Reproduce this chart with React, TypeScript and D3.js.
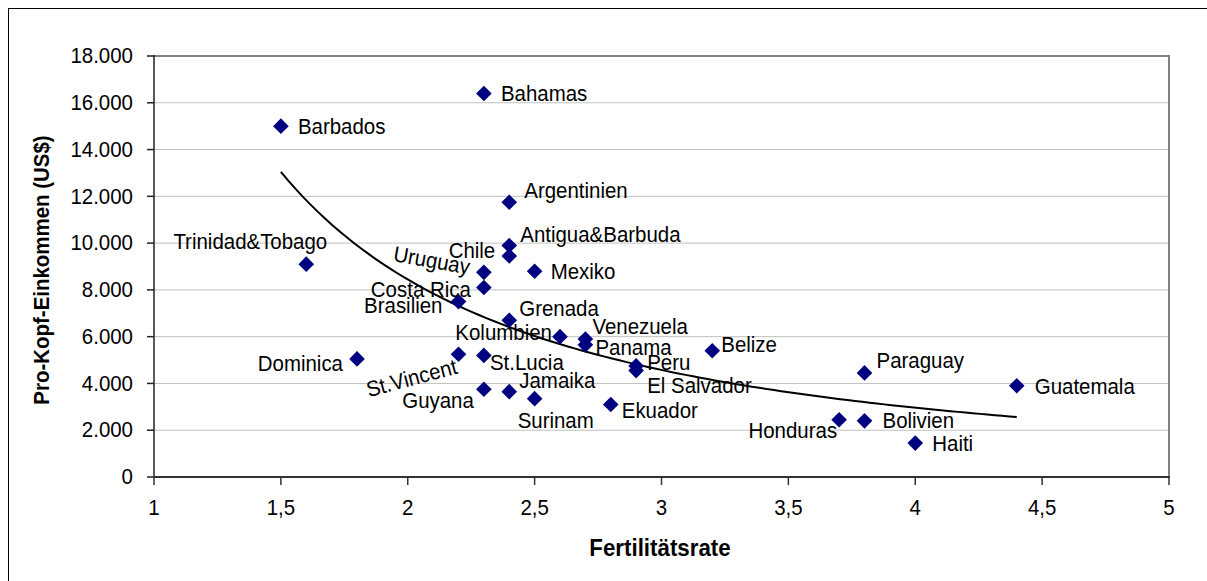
import React from "react";
import * as d3 from "d3";

const countries = [
  "Barbados", "Bahamas", "Trinidad&Tobago", "Argentinien", "Antigua&Barbuda", "Chile",
  "Uruguay", "Costa Rica", "Brasilien", "Mexiko", "Grenada", "Kolumbien", "Venezuela",
  "Panama", "Dominica", "St.Vincent", "St.Lucia", "Belize", "Peru", "El Salvador",
  "Guyana", "Jamaika", "Surinam", "Ekuador", "Paraguay", "Guatemala", "Honduras",
  "Bolivien", "Haiti",
];
const fertility = [
  1.5, 2.3, 1.6, 2.4, 2.4, 2.4,
  2.3, 2.3, 2.2, 2.5, 2.4, 2.6, 2.7,
  2.7, 1.8, 2.2, 2.3, 3.2, 2.9, 2.9,
  2.3, 2.4, 2.5, 2.8, 3.8, 4.4, 3.7,
  3.8, 4.0,
];
const income = [
  15000, 16400, 9100, 11750, 9900, 9450,
  8750, 8100, 7500, 8800, 6700, 6000, 5900,
  5650, 5050, 5250, 5200, 5400, 4750, 4550,
  3750, 3650, 3350, 3100, 4450, 3900, 2450,
  2400, 1450,
];
const xTicks = [1, 1.5, 2, 2.5, 3, 3.5, 4, 4.5, 5];
const yTicks = [0, 2000, 4000, 6000, 8000, 10000, 12000, 14000, 16000, 18000];

// power trendline y = a * x^b, coefficients
const trendA = 24070;
const trendB = -1.511;

// label layout: [dx, dy, anchor, rotate]
const labelLayout: [number, number, string, number][] = [
  [17, 1, "start", 0], [17, 0, "start", 0], [21, -22, "end", 0], [15, -11, "start", 0],
  [11, -11, "start", 0], [-14, -5, "end", 0], [-14, -5, "end", 10], [-13, 2, "end", 0],
  [-16, 4, "end", 0], [16, 1, "start", 0], [10, -12, "start", 0], [-8, -4, "end", 0],
  [7, -12, "start", 0], [10, 3, "start", 0], [-14, 5, "end", 0], [-2, 12, "end", -15],
  [6, 7, "start", 0], [9, -6, "start", 0], [11, -3, "start", 0], [11, 15, "start", 0],
  [-10, 11, "end", 0], [10, -11, "start", 0], [-17, 22, "start", 0], [11, 6, "start", 0],
  [12, -12, "start", 0], [18, 1, "start", 0], [-2, 11, "end", 0], [18, 0, "start", 0],
  [17, 1, "start", 0],
];

const FONT = "'Liberation Sans', Arial, sans-serif";
const SX = 0.93;

function T(props: {
  x: number; y: number; size?: number; anchor?: string; weight?: string;
  rotate?: number; children: React.ReactNode;
}) {
  const { x, y, size = 21, anchor = "start", weight = "normal", rotate = 0 } = props;
  return (
    <text
      transform={`translate(${x},${y}) rotate(${rotate}) scale(${SX},1)`}
      textAnchor={anchor}
      dominantBaseline="central"
      fontFamily={FONT}
      fontSize={size}
      fontWeight={weight}
      fill="#000"
    >
      {props.children}
    </text>
  );
}

export default function App() {
  const W = 1207, H = 581;
  const left = 154, right = 1169, top = 56, bottom = 477;
  const x = d3.scaleLinear().domain([1, 5]).range([left, right]);
  const y = d3.scaleLinear().domain([0, 18000]).range([bottom, top]);

  const [x0, x1] = d3.extent(fertility) as [number, number];
  const trend = d3.range(0, 101).map((i) => {
    const xv = x0 + ((x1 - x0) * i) / 100;
    return [xv, trendA * Math.pow(xv, trendB)] as [number, number];
  });
  const line = d3.line<[number, number]>().x((d) => x(d[0])).y((d) => y(d[1])).curve(d3.curveLinear);
  const diamond = d3.symbol().type(d3.symbolDiamond2).size(155)();

  const fmt = (v: number) => d3.format(",")(v).replace(/,/g, ".");
  const fmtX = (v: number) => String(v).replace(".", ",");

  return (
    <svg width={W} height={H} style={{ position: "absolute", left: 0, top: 0, background: "#fff" }}>
      <rect x={8.5} y={8.5} width={1220} height={600} fill="#fff" stroke="#000" strokeWidth={1} />
      {yTicks.slice(1).map((t) => (
        <line key={t} x1={left} x2={right} y1={y(t)} y2={y(t)} stroke="#c0c0c0" strokeWidth={1} />
      ))}
      <line x1={left} x2={right} y1={top} y2={top} stroke="#808080" strokeWidth={2} />
      <line x1={right} x2={right} y1={top - 1} y2={bottom} stroke="#808080" strokeWidth={2} />
      <line x1={left} x2={left} y1={top - 1} y2={bottom} stroke="#222" strokeWidth={1.5} />
      <line x1={left - 1} x2={right + 1} y1={bottom} y2={bottom} stroke="#333" strokeWidth={2} />
      {yTicks.map((t) => (
        <g key={t}>
          <line x1={left - 7} x2={left} y1={y(t)} y2={y(t)} stroke="#222" strokeWidth={1.5} />
          <T x={left - 21} y={y(t)} anchor="end" size={22}>{fmt(t)}</T>
        </g>
      ))}
      {xTicks.map((t) => (
        <g key={t}>
          <line x1={x(t)} x2={x(t)} y1={bottom} y2={bottom + 8} stroke="#333" strokeWidth={1.5} />
          <T x={x(t)} y={bottom + 31} anchor="middle" size={22}>{fmtX(t)}</T>
        </g>
      ))}
      <path d={line(trend)!} fill="none" stroke="#000" strokeWidth={2} />
      {countries.map((c, i) => (
        <path key={c} d={diamond!} transform={`translate(${x(fertility[i])},${y(income[i])})`} fill="#000080" />
      ))}
      {countries.map((c, i) => {
        const [dx, dy, anchor, rot] = labelLayout[i];
        return (
          <T key={c} x={x(fertility[i]) + dx} y={y(income[i]) + dy} anchor={anchor} rotate={rot} size={22}>
            {c}
          </T>
        );
      })}
      <T x={660} y={548} anchor="middle" weight="bold" size={24}>Fertilitätsrate</T>
      <T x={42} y={270} anchor="middle" weight="bold" size={22} rotate={-90}>Pro-Kopf-Einkommen (US$)</T>
    </svg>
  );
}
